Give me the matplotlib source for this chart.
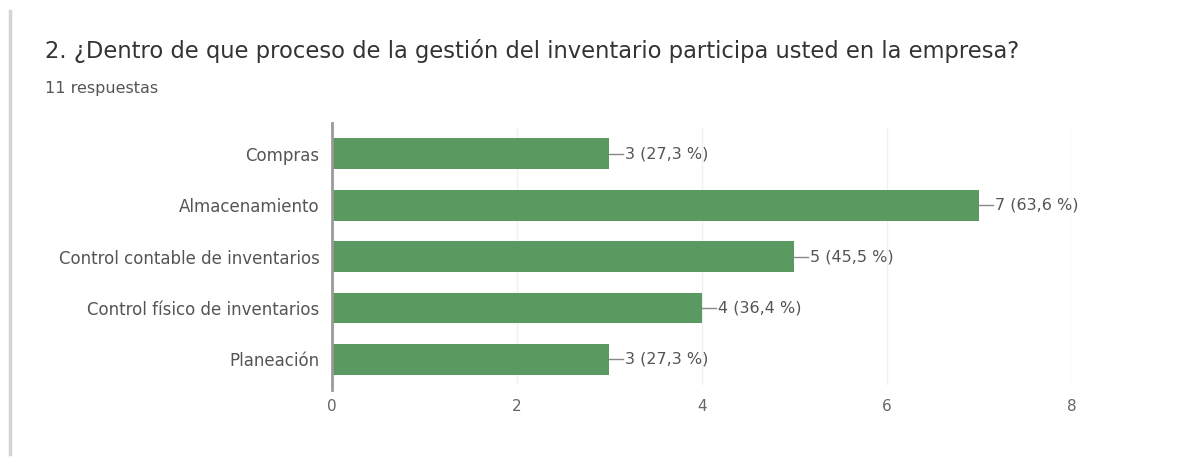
import matplotlib.pyplot as plt
import matplotlib.lines as mlines

plt.rcParams['font.family'] = ['DejaVu Sans']

# Respuestas por proceso (11 en total)
categorias = ['Compras', 'Almacenamiento', 'Control contable de inventarios',
              'Control físico de inventarios', 'Planeación']
respuestas = [3, 7, 5, 4, 3]
total = 11
ticks_x = [0, 2, 4, 6, 8]

verde = '#5a9a60'

fig = plt.figure(figsize=(12.04, 4.59), dpi=100)
fig.patch.set_facecolor('white')

# borde izquierdo de la tarjeta
fig.add_artist(mlines.Line2D([0.0085, 0.0085], [0.01, 0.975], color='#d4d4d4', lw=2.5,
                             transform=fig.transFigure))

fig.text(0.037, 0.888, '2. ¿Dentro de que proceso de la gestión del inventario participa usted en la empresa?',
         fontsize=16.3, color='#333333', va='center')
fig.text(0.037, 0.808, '11 respuestas', fontsize=11.5, color='#555555', va='center')

ax = fig.add_axes([0.2757, 0.161, 0.6146, 0.560])
y = list(range(len(categorias)))
ax.barh(y, respuestas, height=0.6, color=verde, zorder=2)
ax.set_ylim(len(categorias) - 0.5, -0.5)
ax.set_xlim(0, 8)

ax.set_yticks(y)
ax.set_yticklabels(categorias, fontsize=12, color='#555555')
ax.set_xticks(ticks_x)
ax.set_xticklabels([str(t) for t in ticks_x], fontsize=11, color='#666666')
ax.tick_params(axis='both', length=0)
ax.tick_params(axis='y', pad=9)
ax.tick_params(axis='x', pad=10)

ax.grid(axis='x', color='#f0f0f0', lw=1, zorder=0)
for s in ['top', 'right', 'bottom']:
    ax.spines[s].set_visible(False)
ax.spines['left'].set_color('#9a9a9a')
ax.spines['left'].set_linewidth(2)
ax.spines['left'].set_bounds(len(categorias) - 0.4, -0.6)

# etiquetas de valor con línea guía
for yi, v in zip(y, respuestas):
    pct = f'{v / total * 100:.1f}'.replace('.', ',')
    ax.plot([v, v + 0.15], [yi, yi], color='#888888', lw=1, zorder=3)
    ax.text(v + 0.17, yi, f'{v} ({pct} %)', fontsize=11.5, color='#555555',
            va='center', ha='left')

fig.savefig('out.png', dpi=100, facecolor='white')
